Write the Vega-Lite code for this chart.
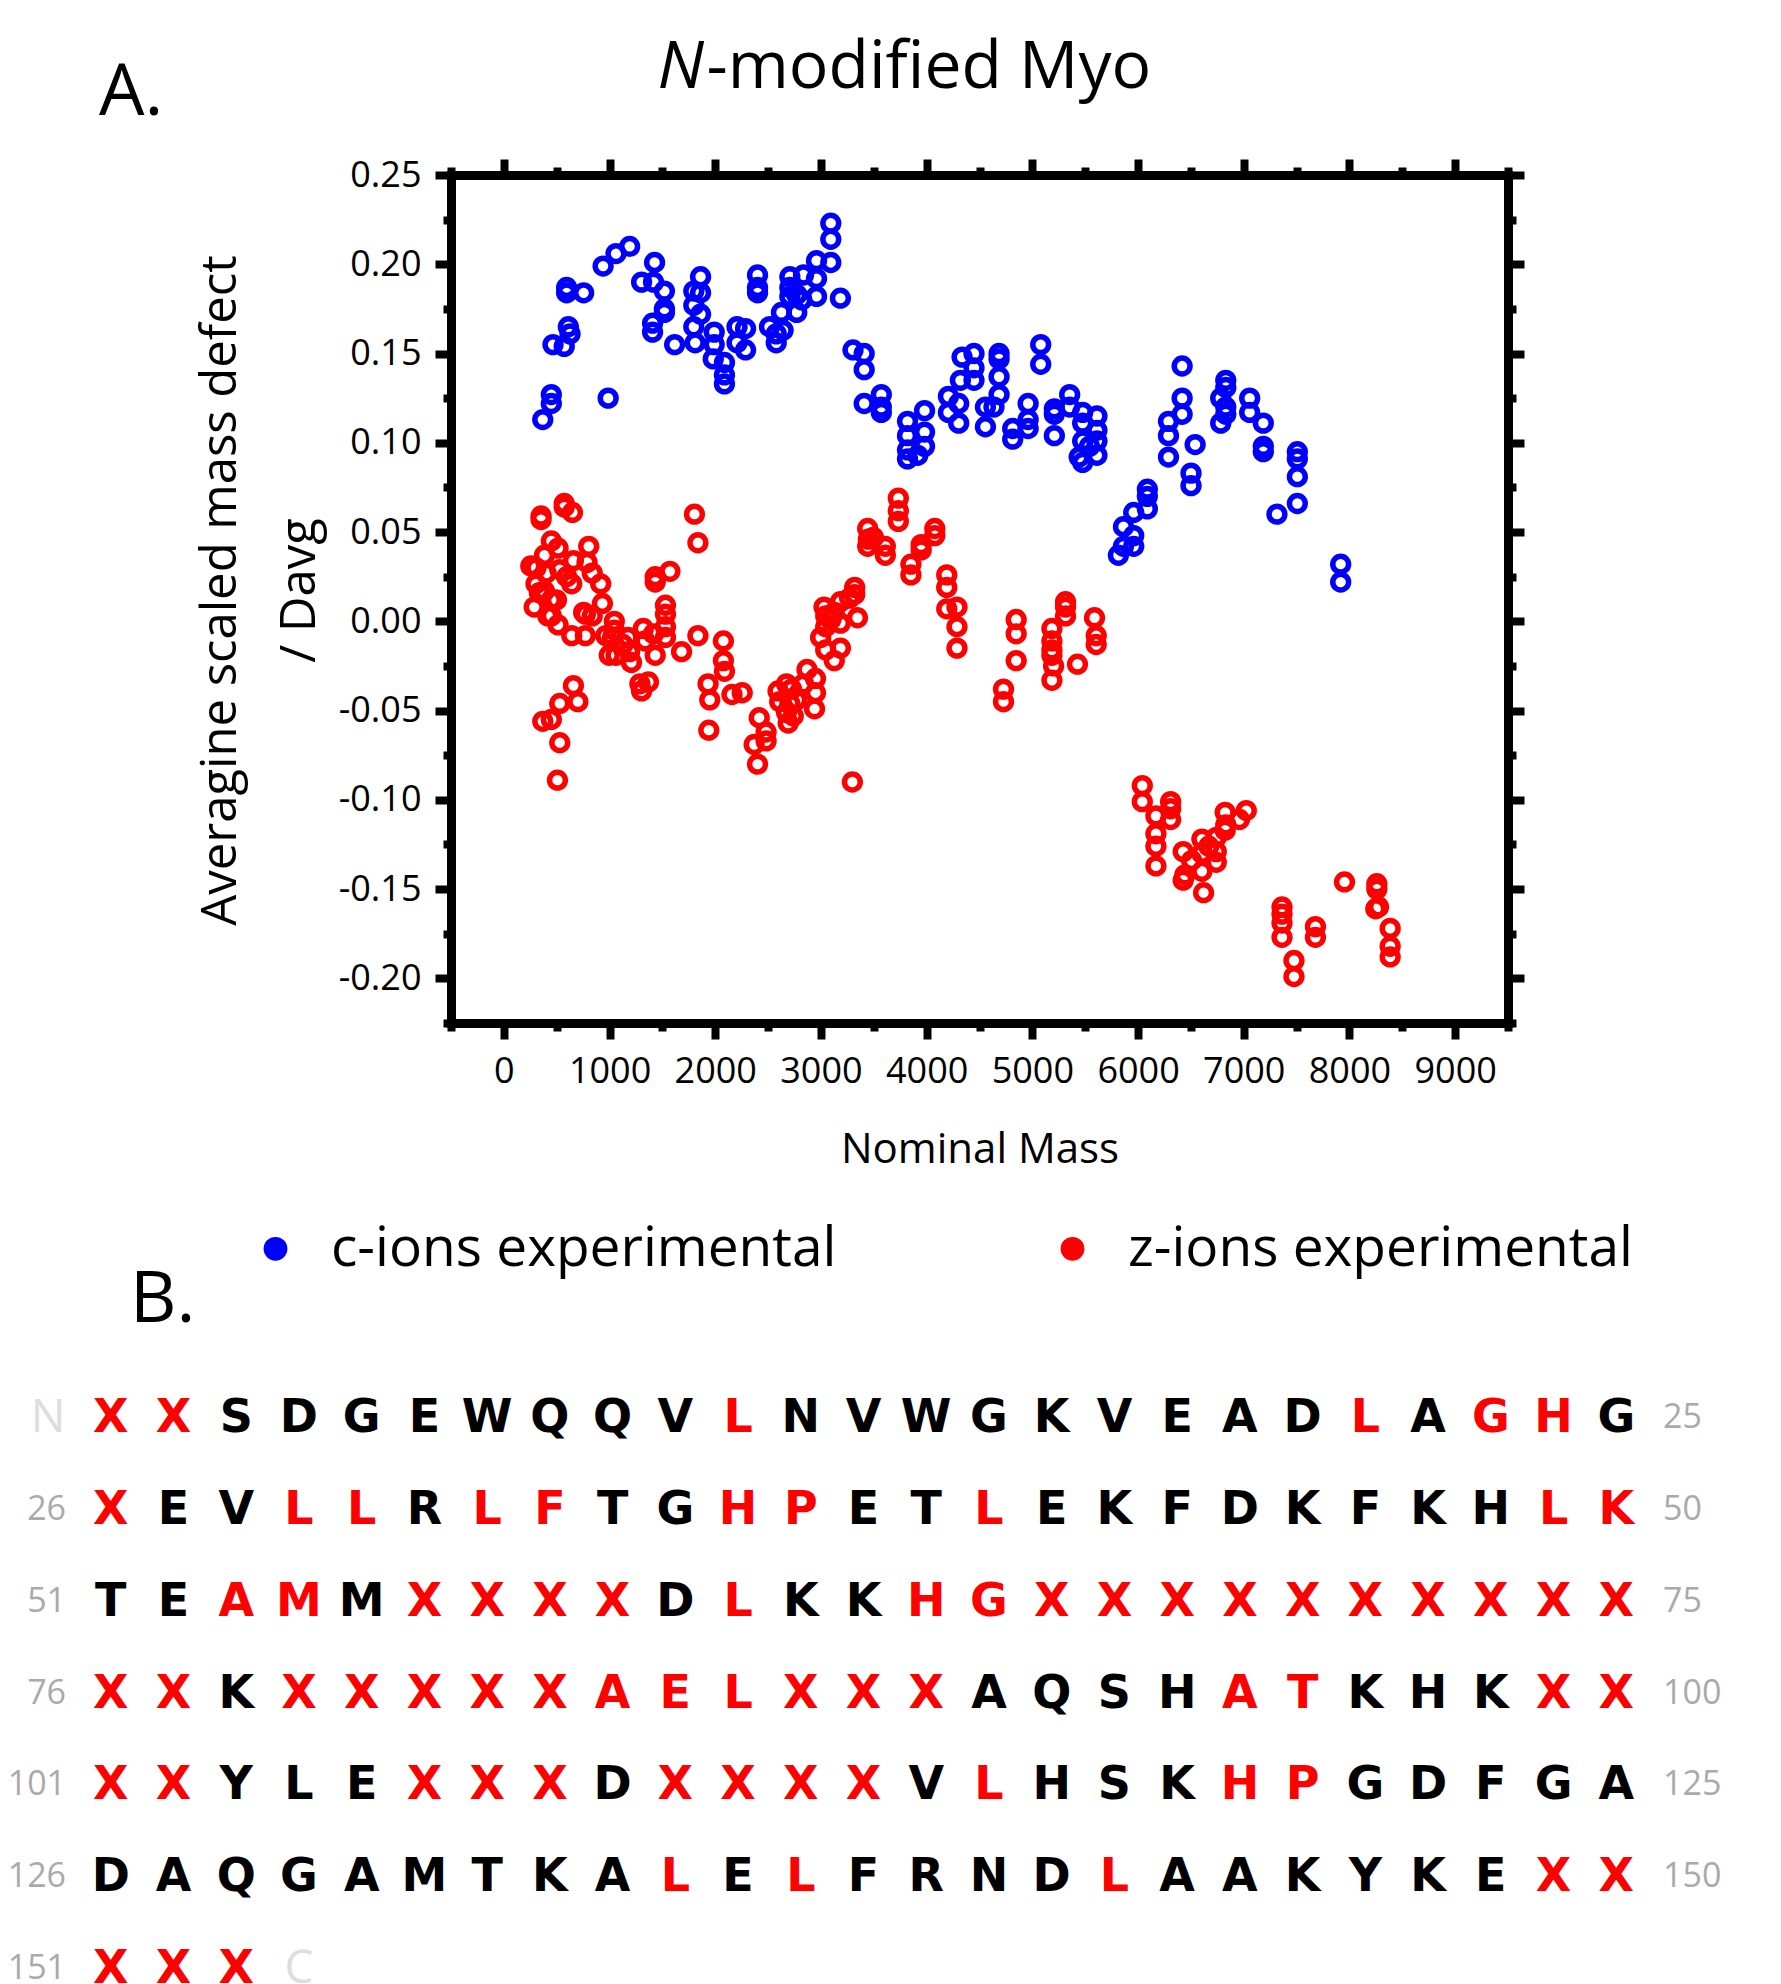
{
"$schema": "https://vega.github.io/schema/vega-lite/v6.json",
"autosize": {"type": "none"},
"padding": {"left": 451, "top": 175, "right": 1330, "bottom": 1809},
"background": "white",
"bounds": "flush",
"spacing": 349,
"resolve": {"scale": {"color": "independent"}, "legend": {"color": "independent"}},
"config": {"view": {"stroke": null}, "axis": {"grid": false}},
"datasets": {
"ions": [
{"ion":"c-ions","m":368,"d":0.113},{"ion":"c-ions","m":449,"d":0.122},{"ion":"c-ions","m":449,"d":0.127},{"ion":"c-ions","m":987,"d":0.125},
{"ion":"c-ions","m":465,"d":0.155},{"ion":"c-ions","m":571,"d":0.154},{"ion":"c-ions","m":610,"d":0.165},{"ion":"c-ions","m":626,"d":0.161},
{"ion":"c-ions","m":594,"d":0.187},{"ion":"c-ions","m":594,"d":0.184},{"ion":"c-ions","m":755,"d":0.184},{"ion":"c-ions","m":939,"d":0.199},
{"ion":"c-ions","m":1061,"d":0.206},{"ion":"c-ions","m":1190,"d":0.210},{"ion":"c-ions","m":1426,"d":0.201},{"ion":"c-ions","m":1303,"d":0.190},
{"ion":"c-ions","m":1416,"d":0.190},{"ion":"c-ions","m":1519,"d":0.185},{"ion":"c-ions","m":1519,"d":0.175},{"ion":"c-ions","m":1519,"d":0.173},
{"ion":"c-ions","m":1407,"d":0.167},{"ion":"c-ions","m":1407,"d":0.162},{"ion":"c-ions","m":1616,"d":0.155},{"ion":"c-ions","m":1861,"d":0.193},
{"ion":"c-ions","m":1861,"d":0.184},{"ion":"c-ions","m":1861,"d":0.172},{"ion":"c-ions","m":1797,"d":0.185},{"ion":"c-ions","m":1797,"d":0.177},
{"ion":"c-ions","m":1797,"d":0.165},{"ion":"c-ions","m":1810,"d":0.156},{"ion":"c-ions","m":1990,"d":0.162},{"ion":"c-ions","m":1990,"d":0.155},
{"ion":"c-ions","m":1981,"d":0.147},{"ion":"c-ions","m":2087,"d":0.145},{"ion":"c-ions","m":2087,"d":0.138},{"ion":"c-ions","m":2087,"d":0.133},
{"ion":"c-ions","m":2206,"d":0.165},{"ion":"c-ions","m":2287,"d":0.164},{"ion":"c-ions","m":2287,"d":0.152},{"ion":"c-ions","m":2206,"d":0.156},
{"ion":"c-ions","m":2400,"d":0.194},{"ion":"c-ions","m":2400,"d":0.187},{"ion":"c-ions","m":2400,"d":0.184},{"ion":"c-ions","m":2513,"d":0.165},
{"ion":"c-ions","m":2577,"d":0.161},{"ion":"c-ions","m":2577,"d":0.156},{"ion":"c-ions","m":2642,"d":0.163},{"ion":"c-ions","m":2626,"d":0.173},
{"ion":"c-ions","m":2706,"d":0.193},{"ion":"c-ions","m":2706,"d":0.187},{"ion":"c-ions","m":2771,"d":0.173},{"ion":"c-ions","m":2835,"d":0.194},
{"ion":"c-ions","m":2819,"d":0.180},{"ion":"c-ions","m":2958,"d":0.202},{"ion":"c-ions","m":2958,"d":0.192},{"ion":"c-ions","m":2958,"d":0.182},
{"ion":"c-ions","m":3093,"d":0.223},{"ion":"c-ions","m":3093,"d":0.214},{"ion":"c-ions","m":3093,"d":0.201},{"ion":"c-ions","m":3184,"d":0.181},
{"ion":"c-ions","m":2706,"d":0.182},{"ion":"c-ions","m":2771,"d":0.183},{"ion":"c-ions","m":3303,"d":0.152},{"ion":"c-ions","m":3409,"d":0.150},
{"ion":"c-ions","m":3409,"d":0.141},{"ion":"c-ions","m":3409,"d":0.122},{"ion":"c-ions","m":3571,"d":0.127},{"ion":"c-ions","m":3571,"d":0.120},
{"ion":"c-ions","m":3571,"d":0.117},{"ion":"c-ions","m":3819,"d":0.112},{"ion":"c-ions","m":3819,"d":0.104},{"ion":"c-ions","m":3819,"d":0.096},
{"ion":"c-ions","m":3819,"d":0.091},{"ion":"c-ions","m":3980,"d":0.118},{"ion":"c-ions","m":3980,"d":0.106},{"ion":"c-ions","m":3980,"d":0.098},
{"ion":"c-ions","m":3916,"d":0.093},{"ion":"c-ions","m":4206,"d":0.126},{"ion":"c-ions","m":4206,"d":0.117},{"ion":"c-ions","m":4303,"d":0.122},
{"ion":"c-ions","m":4303,"d":0.111},{"ion":"c-ions","m":4335,"d":0.148},{"ion":"c-ions","m":4448,"d":0.150},{"ion":"c-ions","m":4319,"d":0.135},
{"ion":"c-ions","m":4448,"d":0.135},{"ion":"c-ions","m":4448,"d":0.142},{"ion":"c-ions","m":4556,"d":0.120},{"ion":"c-ions","m":4556,"d":0.109},
{"ion":"c-ions","m":4637,"d":0.120},{"ion":"c-ions","m":4685,"d":0.150},{"ion":"c-ions","m":4685,"d":0.147},{"ion":"c-ions","m":4685,"d":0.137},
{"ion":"c-ions","m":4685,"d":0.127},{"ion":"c-ions","m":4814,"d":0.108},{"ion":"c-ions","m":4814,"d":0.102},{"ion":"c-ions","m":4960,"d":0.122},
{"ion":"c-ions","m":4960,"d":0.113},{"ion":"c-ions","m":4960,"d":0.108},{"ion":"c-ions","m":5079,"d":0.155},{"ion":"c-ions","m":5079,"d":0.144},
{"ion":"c-ions","m":5208,"d":0.119},{"ion":"c-ions","m":5208,"d":0.116},{"ion":"c-ions","m":5208,"d":0.104},{"ion":"c-ions","m":5353,"d":0.127},
{"ion":"c-ions","m":5353,"d":0.120},{"ion":"c-ions","m":5476,"d":0.117},{"ion":"c-ions","m":5476,"d":0.111},{"ion":"c-ions","m":5476,"d":0.101},
{"ion":"c-ions","m":5443,"d":0.092},{"ion":"c-ions","m":5476,"d":0.089},{"ion":"c-ions","m":5611,"d":0.115},{"ion":"c-ions","m":5611,"d":0.107},
{"ion":"c-ions","m":5611,"d":0.101},{"ion":"c-ions","m":5611,"d":0.093},{"ion":"c-ions","m":5540,"d":0.098},{"ion":"c-ions","m":6417,"d":0.143},
{"ion":"c-ions","m":6417,"d":0.125},{"ion":"c-ions","m":6417,"d":0.116},{"ion":"c-ions","m":6288,"d":0.112},{"ion":"c-ions","m":6288,"d":0.104},
{"ion":"c-ions","m":6288,"d":0.092},{"ion":"c-ions","m":6540,"d":0.099},{"ion":"c-ions","m":6501,"d":0.083},{"ion":"c-ions","m":6501,"d":0.076},
{"ion":"c-ions","m":6088,"d":0.074},{"ion":"c-ions","m":6088,"d":0.070},{"ion":"c-ions","m":6088,"d":0.063},{"ion":"c-ions","m":5959,"d":0.061},
{"ion":"c-ions","m":5959,"d":0.048},{"ion":"c-ions","m":5959,"d":0.042},{"ion":"c-ions","m":5862,"d":0.053},{"ion":"c-ions","m":5814,"d":0.037},
{"ion":"c-ions","m":5862,"d":0.042},{"ion":"c-ions","m":6830,"d":0.135},{"ion":"c-ions","m":6830,"d":0.131},{"ion":"c-ions","m":6830,"d":0.120},
{"ion":"c-ions","m":6782,"d":0.125},{"ion":"c-ions","m":6782,"d":0.111},{"ion":"c-ions","m":6830,"d":0.116},{"ion":"c-ions","m":7056,"d":0.125},
{"ion":"c-ions","m":7056,"d":0.117},{"ion":"c-ions","m":7185,"d":0.111},{"ion":"c-ions","m":7185,"d":0.098},{"ion":"c-ions","m":7185,"d":0.095},
{"ion":"c-ions","m":7507,"d":0.095},{"ion":"c-ions","m":7507,"d":0.091},{"ion":"c-ions","m":7507,"d":0.081},{"ion":"c-ions","m":7507,"d":0.066},
{"ion":"c-ions","m":7314,"d":0.060},{"ion":"c-ions","m":7917,"d":0.032},{"ion":"c-ions","m":7917,"d":0.022},
{"ion":"z-ions","m":352,"d":0.059},{"ion":"z-ions","m":352,"d":0.057},{"ion":"z-ions","m":571,"d":0.066},{"ion":"z-ions","m":571,"d":0.064},
{"ion":"z-ions","m":649,"d":0.061},{"ion":"z-ions","m":1803,"d":0.060},{"ion":"z-ions","m":1836,"d":0.044},{"ion":"z-ions","m":449,"d":0.045},
{"ion":"z-ions","m":513,"d":0.041},{"ion":"z-ions","m":803,"d":0.042},{"ion":"z-ions","m":384,"d":0.037},{"ion":"z-ions","m":304,"d":0.030},
{"ion":"z-ions","m":400,"d":0.027},{"ion":"z-ions","m":658,"d":0.034},{"ion":"z-ions","m":529,"d":0.029},{"ion":"z-ions","m":787,"d":0.033},
{"ion":"z-ions","m":836,"d":0.027},{"ion":"z-ions","m":916,"d":0.021},{"ion":"z-ions","m":642,"d":0.021},{"ion":"z-ions","m":304,"d":0.021},
{"ion":"z-ions","m":336,"d":0.016},{"ion":"z-ions","m":497,"d":0.012},{"ion":"z-ions","m":384,"d":0.017},{"ion":"z-ions","m":287,"d":0.008},
{"ion":"z-ions","m":513,"d":-0.002},{"ion":"z-ions","m":449,"d":0.003},{"ion":"z-ions","m":642,"d":-0.008},{"ion":"z-ions","m":771,"d":-0.008},
{"ion":"z-ions","m":771,"d":0.004},{"ion":"z-ions","m":932,"d":0.010},{"ion":"z-ions","m":755,"d":0.005},{"ion":"z-ions","m":1045,"d":0.000},
{"ion":"z-ions","m":1045,"d":-0.005},{"ion":"z-ions","m":1029,"d":-0.009},{"ion":"z-ions","m":1061,"d":-0.019},{"ion":"z-ions","m":1126,"d":-0.013},
{"ion":"z-ions","m":1190,"d":-0.017},{"ion":"z-ions","m":1207,"d":-0.023},{"ion":"z-ions","m":1174,"d":-0.009},{"ion":"z-ions","m":1319,"d":-0.004},
{"ion":"z-ions","m":1416,"d":-0.007},{"ion":"z-ions","m":1529,"d":-0.009},{"ion":"z-ions","m":1432,"d":-0.019},{"ion":"z-ions","m":1529,"d":0.004},
{"ion":"z-ions","m":1529,"d":0.009},{"ion":"z-ions","m":1432,"d":0.022},{"ion":"z-ions","m":1571,"d":0.028},{"ion":"z-ions","m":1432,"d":0.025},
{"ion":"z-ions","m":1681,"d":-0.017},{"ion":"z-ions","m":1836,"d":-0.008},{"ion":"z-ions","m":1287,"d":-0.035},{"ion":"z-ions","m":1368,"d":-0.034},
{"ion":"z-ions","m":1303,"d":-0.039},{"ion":"z-ions","m":658,"d":-0.036},{"ion":"z-ions","m":529,"d":-0.046},{"ion":"z-ions","m":700,"d":-0.045},
{"ion":"z-ions","m":449,"d":-0.055},{"ion":"z-ions","m":368,"d":-0.056},{"ion":"z-ions","m":529,"d":-0.068},{"ion":"z-ions","m":507,"d":-0.089},
{"ion":"z-ions","m":2077,"d":-0.011},{"ion":"z-ions","m":2077,"d":-0.022},{"ion":"z-ions","m":2087,"d":-0.028},{"ion":"z-ions","m":1932,"d":-0.035},
{"ion":"z-ions","m":1948,"d":-0.044},{"ion":"z-ions","m":1939,"d":-0.061},{"ion":"z-ions","m":2158,"d":-0.041},{"ion":"z-ions","m":2255,"d":-0.040},
{"ion":"z-ions","m":2416,"d":-0.054},{"ion":"z-ions","m":2481,"d":-0.062},{"ion":"z-ions","m":2481,"d":-0.067},{"ion":"z-ions","m":2368,"d":-0.069},
{"ion":"z-ions","m":2400,"d":-0.080},{"ion":"z-ions","m":2594,"d":-0.039},{"ion":"z-ions","m":2610,"d":-0.045},{"ion":"z-ions","m":2722,"d":-0.038},
{"ion":"z-ions","m":2738,"d":-0.053},{"ion":"z-ions","m":2690,"d":-0.057},{"ion":"z-ions","m":2868,"d":-0.027},{"ion":"z-ions","m":2948,"d":-0.032},
{"ion":"z-ions","m":2948,"d":-0.040},{"ion":"z-ions","m":2939,"d":-0.049},{"ion":"z-ions","m":2835,"d":-0.035},{"ion":"z-ions","m":2706,"d":-0.046},
{"ion":"z-ions","m":3045,"d":0.003},{"ion":"z-ions","m":3045,"d":-0.003},{"ion":"z-ions","m":3045,"d":-0.016},{"ion":"z-ions","m":3126,"d":-0.022},
{"ion":"z-ions","m":3184,"d":-0.015},{"ion":"z-ions","m":3093,"d":0.001},{"ion":"z-ions","m":3184,"d":-0.001},{"ion":"z-ions","m":3184,"d":0.011},
{"ion":"z-ions","m":3319,"d":0.019},{"ion":"z-ions","m":3319,"d":0.015},{"ion":"z-ions","m":3345,"d":0.002},{"ion":"z-ions","m":3297,"d":-0.090},
{"ion":"z-ions","m":3732,"d":0.069},{"ion":"z-ions","m":3732,"d":0.062},{"ion":"z-ions","m":3732,"d":0.056},{"ion":"z-ions","m":3442,"d":0.052},
{"ion":"z-ions","m":3442,"d":0.042},{"ion":"z-ions","m":3496,"d":0.047},{"ion":"z-ions","m":3609,"d":0.042},{"ion":"z-ions","m":3609,"d":0.037},
{"ion":"z-ions","m":3851,"d":0.032},{"ion":"z-ions","m":3851,"d":0.026},{"ion":"z-ions","m":3948,"d":0.040},{"ion":"z-ions","m":3948,"d":0.043},
{"ion":"z-ions","m":4077,"d":0.052},{"ion":"z-ions","m":4077,"d":0.048},{"ion":"z-ions","m":4190,"d":0.026},{"ion":"z-ions","m":4190,"d":0.019},
{"ion":"z-ions","m":4190,"d":0.007},{"ion":"z-ions","m":4287,"d":0.008},{"ion":"z-ions","m":4287,"d":-0.003},{"ion":"z-ions","m":4287,"d":-0.015},
{"ion":"z-ions","m":255,"d":0.031},{"ion":"z-ions","m":594,"d":0.025},{"ion":"z-ions","m":449,"d":0.012},{"ion":"z-ions","m":416,"d":0.003},
{"ion":"z-ions","m":836,"d":0.003},{"ion":"z-ions","m":965,"d":-0.008},{"ion":"z-ions","m":997,"d":-0.019},{"ion":"z-ions","m":1336,"d":-0.011},
{"ion":"z-ions","m":1529,"d":-0.003},{"ion":"z-ions","m":2674,"d":-0.035},{"ion":"z-ions","m":2674,"d":-0.051},{"ion":"z-ions","m":2771,"d":-0.044},
{"ion":"z-ions","m":2997,"d":-0.009},{"ion":"z-ions","m":3126,"d":0.005},{"ion":"z-ions","m":3448,"d":0.046},{"ion":"z-ions","m":3271,"d":0.013},
{"ion":"z-ions","m":3029,"d":0.008},
{"ion":"z-ions","m":4847,"d":0.001},{"ion":"z-ions","m":4847,"d":-0.007},{"ion":"z-ions","m":4847,"d":-0.022},{"ion":"z-ions","m":4727,"d":-0.038},
{"ion":"z-ions","m":4727,"d":-0.045},{"ion":"z-ions","m":5185,"d":-0.004},{"ion":"z-ions","m":5185,"d":-0.011},{"ion":"z-ions","m":5185,"d":-0.016},
{"ion":"z-ions","m":5201,"d":-0.025},{"ion":"z-ions","m":5185,"d":-0.033},{"ion":"z-ions","m":5314,"d":0.011},{"ion":"z-ions","m":5314,"d":0.008},
{"ion":"z-ions","m":5314,"d":0.003},{"ion":"z-ions","m":5427,"d":-0.024},{"ion":"z-ions","m":5588,"d":0.002},{"ion":"z-ions","m":5604,"d":-0.008},
{"ion":"z-ions","m":5604,"d":-0.013},{"ion":"z-ions","m":6040,"d":-0.092},{"ion":"z-ions","m":6040,"d":-0.101},{"ion":"z-ions","m":6169,"d":-0.109},
{"ion":"z-ions","m":6169,"d":-0.119},{"ion":"z-ions","m":6169,"d":-0.126},{"ion":"z-ions","m":6169,"d":-0.137},{"ion":"z-ions","m":6308,"d":-0.101},
{"ion":"z-ions","m":6308,"d":-0.105},{"ion":"z-ions","m":6308,"d":-0.111},{"ion":"z-ions","m":6427,"d":-0.129},{"ion":"z-ions","m":6443,"d":-0.142},
{"ion":"z-ions","m":6427,"d":-0.145},{"ion":"z-ions","m":6604,"d":-0.122},{"ion":"z-ions","m":6604,"d":-0.130},{"ion":"z-ions","m":6620,"d":-0.152},
{"ion":"z-ions","m":6604,"d":-0.140},{"ion":"z-ions","m":6740,"d":-0.135},{"ion":"z-ions","m":6740,"d":-0.121},{"ion":"z-ions","m":6740,"d":-0.129},
{"ion":"z-ions","m":6824,"d":-0.107},{"ion":"z-ions","m":6824,"d":-0.117},{"ion":"z-ions","m":6959,"d":-0.111},{"ion":"z-ions","m":7024,"d":-0.106},
{"ion":"z-ions","m":7362,"d":-0.160},{"ion":"z-ions","m":7362,"d":-0.169},{"ion":"z-ions","m":7362,"d":-0.177},{"ion":"z-ions","m":7475,"d":-0.190},
{"ion":"z-ions","m":7475,"d":-0.199},{"ion":"z-ions","m":7678,"d":-0.171},{"ion":"z-ions","m":7678,"d":-0.177},{"ion":"z-ions","m":7953,"d":-0.146},
{"ion":"z-ions","m":8259,"d":-0.147},{"ion":"z-ions","m":8259,"d":-0.150},{"ion":"z-ions","m":8275,"d":-0.160},{"ion":"z-ions","m":8385,"d":-0.172},
{"ion":"z-ions","m":8385,"d":-0.182},{"ion":"z-ions","m":8385,"d":-0.188},{"ion":"z-ions","m":7362,"d":-0.164},{"ion":"z-ions","m":8249,"d":-0.161},
{"ion":"z-ions","m":6507,"d":-0.134},{"ion":"z-ions","m":6669,"d":-0.126},{"ion":"z-ions","m":6830,"d":-0.114},{"ion":"z-ions","m":5185,"d":-0.019}
],
"seq": [
{"n":1,"aa":"X","cut":1},{"n":2,"aa":"X","cut":1},{"n":3,"aa":"S","cut":0},{"n":4,"aa":"D","cut":0},{"n":5,"aa":"G","cut":0},
{"n":6,"aa":"E","cut":0},{"n":7,"aa":"W","cut":0},{"n":8,"aa":"Q","cut":0},{"n":9,"aa":"Q","cut":0},{"n":10,"aa":"V","cut":0},
{"n":11,"aa":"L","cut":1},{"n":12,"aa":"N","cut":0},{"n":13,"aa":"V","cut":0},{"n":14,"aa":"W","cut":0},{"n":15,"aa":"G","cut":0},
{"n":16,"aa":"K","cut":0},{"n":17,"aa":"V","cut":0},{"n":18,"aa":"E","cut":0},{"n":19,"aa":"A","cut":0},{"n":20,"aa":"D","cut":0},
{"n":21,"aa":"L","cut":1},{"n":22,"aa":"A","cut":0},{"n":23,"aa":"G","cut":1},{"n":24,"aa":"H","cut":1},{"n":25,"aa":"G","cut":0},
{"n":26,"aa":"X","cut":1},{"n":27,"aa":"E","cut":0},{"n":28,"aa":"V","cut":0},{"n":29,"aa":"L","cut":1},{"n":30,"aa":"L","cut":1},
{"n":31,"aa":"R","cut":0},{"n":32,"aa":"L","cut":1},{"n":33,"aa":"F","cut":1},{"n":34,"aa":"T","cut":0},{"n":35,"aa":"G","cut":0},
{"n":36,"aa":"H","cut":1},{"n":37,"aa":"P","cut":1},{"n":38,"aa":"E","cut":0},{"n":39,"aa":"T","cut":0},{"n":40,"aa":"L","cut":1},
{"n":41,"aa":"E","cut":0},{"n":42,"aa":"K","cut":0},{"n":43,"aa":"F","cut":0},{"n":44,"aa":"D","cut":0},{"n":45,"aa":"K","cut":0},
{"n":46,"aa":"F","cut":0},{"n":47,"aa":"K","cut":0},{"n":48,"aa":"H","cut":0},{"n":49,"aa":"L","cut":1},{"n":50,"aa":"K","cut":1},
{"n":51,"aa":"T","cut":0},{"n":52,"aa":"E","cut":0},{"n":53,"aa":"A","cut":1},{"n":54,"aa":"M","cut":1},{"n":55,"aa":"M","cut":0},
{"n":56,"aa":"X","cut":1},{"n":57,"aa":"X","cut":1},{"n":58,"aa":"X","cut":1},{"n":59,"aa":"X","cut":1},{"n":60,"aa":"D","cut":0},
{"n":61,"aa":"L","cut":1},{"n":62,"aa":"K","cut":0},{"n":63,"aa":"K","cut":0},{"n":64,"aa":"H","cut":1},{"n":65,"aa":"G","cut":1},
{"n":66,"aa":"X","cut":1},{"n":67,"aa":"X","cut":1},{"n":68,"aa":"X","cut":1},{"n":69,"aa":"X","cut":1},{"n":70,"aa":"X","cut":1},
{"n":71,"aa":"X","cut":1},{"n":72,"aa":"X","cut":1},{"n":73,"aa":"X","cut":1},{"n":74,"aa":"X","cut":1},{"n":75,"aa":"X","cut":1},
{"n":76,"aa":"X","cut":1},{"n":77,"aa":"X","cut":1},{"n":78,"aa":"K","cut":0},{"n":79,"aa":"X","cut":1},{"n":80,"aa":"X","cut":1},
{"n":81,"aa":"X","cut":1},{"n":82,"aa":"X","cut":1},{"n":83,"aa":"X","cut":1},{"n":84,"aa":"A","cut":1},{"n":85,"aa":"E","cut":1},
{"n":86,"aa":"L","cut":1},{"n":87,"aa":"X","cut":1},{"n":88,"aa":"X","cut":1},{"n":89,"aa":"X","cut":1},{"n":90,"aa":"A","cut":0},
{"n":91,"aa":"Q","cut":0},{"n":92,"aa":"S","cut":0},{"n":93,"aa":"H","cut":0},{"n":94,"aa":"A","cut":1},{"n":95,"aa":"T","cut":1},
{"n":96,"aa":"K","cut":0},{"n":97,"aa":"H","cut":0},{"n":98,"aa":"K","cut":0},{"n":99,"aa":"X","cut":1},{"n":100,"aa":"X","cut":1},
{"n":101,"aa":"X","cut":1},{"n":102,"aa":"X","cut":1},{"n":103,"aa":"Y","cut":0},{"n":104,"aa":"L","cut":0},{"n":105,"aa":"E","cut":0},
{"n":106,"aa":"X","cut":1},{"n":107,"aa":"X","cut":1},{"n":108,"aa":"X","cut":1},{"n":109,"aa":"D","cut":0},{"n":110,"aa":"X","cut":1},
{"n":111,"aa":"X","cut":1},{"n":112,"aa":"X","cut":1},{"n":113,"aa":"X","cut":1},{"n":114,"aa":"V","cut":0},{"n":115,"aa":"L","cut":1},
{"n":116,"aa":"H","cut":0},{"n":117,"aa":"S","cut":0},{"n":118,"aa":"K","cut":0},{"n":119,"aa":"H","cut":1},{"n":120,"aa":"P","cut":1},
{"n":121,"aa":"G","cut":0},{"n":122,"aa":"D","cut":0},{"n":123,"aa":"F","cut":0},{"n":124,"aa":"G","cut":0},{"n":125,"aa":"A","cut":0},
{"n":126,"aa":"D","cut":0},{"n":127,"aa":"A","cut":0},{"n":128,"aa":"Q","cut":0},{"n":129,"aa":"G","cut":0},{"n":130,"aa":"A","cut":0},
{"n":131,"aa":"M","cut":0},{"n":132,"aa":"T","cut":0},{"n":133,"aa":"K","cut":0},{"n":134,"aa":"A","cut":0},{"n":135,"aa":"L","cut":1},
{"n":136,"aa":"E","cut":0},{"n":137,"aa":"L","cut":1},{"n":138,"aa":"F","cut":0},{"n":139,"aa":"R","cut":0},{"n":140,"aa":"N","cut":0},
{"n":141,"aa":"D","cut":0},{"n":142,"aa":"L","cut":1},{"n":143,"aa":"A","cut":0},{"n":144,"aa":"A","cut":0},{"n":145,"aa":"K","cut":0},
{"n":146,"aa":"Y","cut":0},{"n":147,"aa":"K","cut":0},{"n":148,"aa":"E","cut":0},{"n":149,"aa":"X","cut":1},{"n":150,"aa":"X","cut":1},
{"n":151,"aa":"X","cut":1},{"n":152,"aa":"X","cut":1},{"n":153,"aa":"X","cut":1}
],
"ends": [{"n":0,"t":"N"},{"n":154,"t":"C"}]
},
"vconcat": [
{
"width": 1057,
"height": 848,
"title": {"text": "A.", "anchor": "start", "frame": "group", "dx": -352, "offset": -153, "baseline": "alphabetic", "font": "Open Sans", "fontSize": 72, "fontWeight": "normal", "color": "#000000"},
"data": {"name": "ions"},
"layer": [
{
"transform": [{"filter": "datum.ion === 'c-ions'"}],
"mark": {"type": "point", "filled": false, "strokeWidth": 5.5, "size": 250, "opacity": 1},
"encoding": {
"x": {"field": "m", "type": "quantitative", "scale": {"domain": [-500, 9500], "nice": false, "zero": false},
"axis": {"orient": "bottom", "values": [-500,0,500,1000,1500,2000,2500,3000,3500,4000,4500,5000,5500,6000,6500,7000,7500,8000,8500,9000,9500],
"tickSize": {"condition": {"test": "datum.value % 1000 === 0", "value": 16}, "value": 8},
"tickWidth": 8, "tickColor": "#000000", "domainColor": "#000000", "domainWidth": 9, "domainCap": "square",
"labelExpr": "datum.value % 1000 === 0 ? format(datum.value, 'd') : ''",
"labelFont": "Open Sans", "labelFontSize": 36, "labelColor": "#000000", "labelPadding": 15, "labelOverlap": false, "labelFlush": false,
"title": "Nominal Mass", "titleFont": "Open Sans", "titleFontSize": 42, "titleFontWeight": "normal", "titleColor": "#000000", "titlePadding": 40, "grid": false}},
"y": {"field": "d", "type": "quantitative", "scale": {"domain": [-0.225, 0.25], "nice": false, "zero": false},
"axis": {"orient": "left", "values": [-0.225,-0.2,-0.175,-0.15,-0.125,-0.1,-0.075,-0.05,-0.025,0,0.025,0.05,0.075,0.1,0.125,0.15,0.175,0.2,0.225,0.25],
"tickSize": {"condition": {"test": "abs(datum.value*20 - round(datum.value*20)) < 0.000001", "value": 16}, "value": 8},
"tickWidth": 8, "tickColor": "#000000", "domainColor": "#000000", "domainWidth": 9, "domainCap": "square",
"labelExpr": "abs(datum.value*20 - round(datum.value*20)) < 0.000001 ? (datum.value < -0.000001 ? '-' : '') + format(abs(datum.value), '.2f') : ''",
"labelFont": "Open Sans", "labelFontSize": 36, "labelColor": "#000000", "labelPadding": 14, "labelOverlap": false, "labelFlush": false,
"title": ["Averagine scaled mass defect", "/ Davg"], "titleFont": "Open Sans", "titleFontSize": 49, "titleFontWeight": "normal", "titleColor": "#000000", "titleLineHeight": 79, "titlePadding": 14, "titleY": 415, "grid": false}},
"color": {"field": "ion", "type": "nominal", "scale": {"domain": ["c-ions", "z-ions"], "range": ["#0000ff", "#ff0000"]},
"legend": {"orient": "none", "legendX": -203, "legendY": 1046, "direction": "horizontal", "title": null,
"labelExpr": "datum.label + ' experimental'", "labelFont": "Open Sans", "labelFontSize": 55, "labelColor": "#000000", "labelLimit": 2000,
"labelOffset": 28, "columnPadding": 205, "symbolType": "circle", "symbolSize": 140, "symbolStrokeWidth": 12, "symbolOpacity": 1, "padding": 0}}
}
},
{
"transform": [{"filter": "datum.ion === 'z-ions'"}],
"mark": {"type": "point", "filled": false, "strokeWidth": 5.5, "size": 250, "opacity": 1},
"encoding": {
"x": {"field": "m", "type": "quantitative",
"axis": {"orient": "top", "values": [-500,0,500,1000,1500,2000,2500,3000,3500,4000,4500,5000,5500,6000,6500,7000,7500,8000,8500,9000,9500],
"tickSize": {"condition": {"test": "datum.value % 1000 === 0", "value": 16}, "value": 8},
"tickWidth": 8, "tickColor": "#000000", "domainColor": "#000000", "domainWidth": 9, "domainCap": "square", "labels": false,
"title": "N", "titleFont": "Open Sans", "titleFontStyle": "italic", "titleFontSize": 66, "titleFontWeight": "normal", "titleColor": "#000000",
"titleX": 206, "titleY": -88, "titleAlign": "left", "titleBaseline": "alphabetic", "titleAngle": 0, "grid": false}},
"y": {"field": "d", "type": "quantitative",
"axis": {"orient": "right", "values": [-0.225,-0.2,-0.175,-0.15,-0.125,-0.1,-0.075,-0.05,-0.025,0,0.025,0.05,0.075,0.1,0.125,0.15,0.175,0.2,0.225,0.25],
"tickSize": {"condition": {"test": "abs(datum.value*20 - round(datum.value*20)) < 0.000001", "value": 16}, "value": 8},
"tickWidth": 8, "tickColor": "#000000", "domainColor": "#000000", "domainWidth": 9, "domainCap": "square", "labels": false,
"title": "-modified Myo", "titleFont": "Open Sans", "titleFontSize": 66, "titleFontWeight": "normal", "titleColor": "#000000",
"titleX": -802, "titleY": -88, "titleAlign": "left", "titleBaseline": "alphabetic", "titleAngle": 0, "grid": false}},
"color": {"field": "ion", "type": "nominal"}
}
}
],
"resolve": {"axis": {"x": "independent", "y": "independent"}}
},
{
"width": 1228,
"height": 643,
"title": {"text": "B.", "anchor": "start", "frame": "group", "dx": -321, "offset": -22, "baseline": "alphabetic", "font": "Open Sans", "fontSize": 72, "fontWeight": "normal", "color": "#000000"},
"layer": [
{
"data": {"name": "seq"},
"transform": [{"calculate": "floor(max(datum.n - 1, 0) / 25)", "as": "row"}, {"calculate": "datum.n - 25 * datum.row", "as": "col"}],
"mark": {"type": "text", "font": "DejaVu Sans", "fontWeight": "bold", "fontSize": 46, "baseline": "middle", "align": "center"},
"encoding": {
"x": {"field": "col", "type": "quantitative", "scale": {"domain": [6.424, 26], "nice": false, "zero": false}, "axis": null},
"y": {"field": "row", "type": "quantitative", "scale": {"domain": [-0.5, 6.5], "nice": false, "zero": false, "reverse": true}, "axis": null},
"text": {"field": "aa", "type": "nominal"},
"color": {"field": "cut", "type": "nominal", "scale": {"domain": [0, 1], "range": ["#000000", "#ff0000"]}, "legend": null}
}
},
{
"data": {"name": "seq"},
"transform": [{"calculate": "floor(max(datum.n - 1, 0) / 25)", "as": "row"}, {"calculate": "datum.n - 25 * datum.row", "as": "col"}, {"filter": "datum.col === 1 && datum.n > 1"}],
"mark": {"type": "text", "font": "Open Sans", "fontSize": 34, "color": "#aaaaaa", "align": "right", "dx": 18, "baseline": "middle"},
"encoding": {
"x": {"datum": 0, "type": "quantitative"},
"y": {"field": "row", "type": "quantitative"},
"text": {"field": "n", "type": "nominal"}
}
},
{
"data": {"name": "seq"},
"transform": [{"calculate": "floor(max(datum.n - 1, 0) / 25)", "as": "row"}, {"calculate": "datum.n - 25 * datum.row", "as": "col"}, {"filter": "datum.col === 25"}],
"mark": {"type": "text", "font": "Open Sans", "fontSize": 34, "color": "#aaaaaa", "align": "left", "dx": -16, "baseline": "middle"},
"encoding": {
"x": {"datum": 26, "type": "quantitative"},
"y": {"field": "row", "type": "quantitative"},
"text": {"field": "n", "type": "nominal"}
}
},
{
"data": {"name": "ends"},
"transform": [{"calculate": "floor(max(datum.n - 1, 0) / 25)", "as": "row"}, {"calculate": "datum.n - 25 * datum.row", "as": "col"}],
"mark": {"type": "text", "font": "Open Sans", "fontSize": 46, "color": "#dddddd", "align": "center", "baseline": "middle"},
"encoding": {
"x": {"field": "col", "type": "quantitative"},
"y": {"field": "row", "type": "quantitative"},
"text": {"field": "t", "type": "nominal"}
}
}
]
}
]
}
